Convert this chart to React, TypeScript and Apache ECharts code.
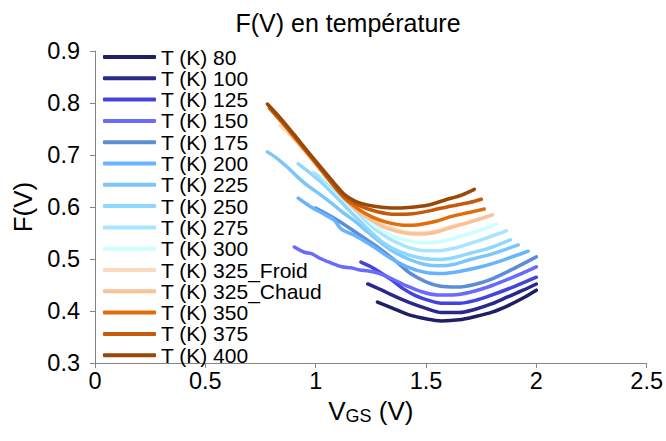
import React, { useEffect, useRef } from "react";
import * as echarts from "echarts";

const TITLE = "F(V) en température";
const X_TICKS = [0, 0.5, 1, 1.5, 2, 2.5];
const Y_TICKS = [0.3, 0.4, 0.5, 0.6, 0.7, 0.8, 0.9];

const NAMES = [
  "T (K) 80", "T (K) 100", "T (K) 125", "T (K) 150", "T (K) 175",
  "T (K) 200", "T (K) 225", "T (K) 250", "T (K) 275", "T (K) 300",
  "T (K) 325_Froid", "T (K) 325_Chaud", "T (K) 350", "T (K) 375", "T (K) 400",
];

const COLORS = [
  "#1f1f66", "#29298c", "#4444dd", "#6a6aff", "#5a8fd5",
  "#66b3ff", "#7cc6fa", "#8ed8ff", "#a8e4ff", "#ccffff",
  "#fdd9bd", "#fbc296", "#e36c0a", "#c55a0c", "#984807",
];

const T80 = [[1.28, 0.417], [1.345, 0.406], [1.42, 0.393], [1.5, 0.385], [1.57, 0.381], [1.65, 0.383], [1.72, 0.389], [1.8, 0.398], [1.87, 0.41], [1.94, 0.425], [2.0, 0.44]];
const T100 = [[1.236, 0.452], [1.3, 0.44], [1.35, 0.43], [1.42, 0.417], [1.5, 0.405], [1.57, 0.397], [1.65, 0.397], [1.72, 0.403], [1.8, 0.414], [1.87, 0.427], [1.94, 0.44], [2.0, 0.452]];
const T125 = [[1.205, 0.494], [1.25, 0.485], [1.3, 0.472], [1.35, 0.458], [1.4, 0.442], [1.45, 0.43], [1.5, 0.422], [1.57, 0.415], [1.65, 0.415], [1.72, 0.42], [1.8, 0.431], [1.9, 0.447], [2.0, 0.465]];
const T150 = [[0.903, 0.523], [0.948, 0.513], [0.984, 0.51], [1.016, 0.502], [1.061, 0.494], [1.12, 0.485], [1.16, 0.483], [1.2, 0.479], [1.24, 0.477], [1.29, 0.472], [1.345, 0.462], [1.42, 0.447], [1.48, 0.437], [1.55, 0.431], [1.62, 0.431], [1.7, 0.436], [1.8, 0.449], [1.9, 0.466], [2.0, 0.485]];
const T175 = [[1.0, 0.598], [1.09, 0.577], [1.18, 0.552], [1.27, 0.526], [1.36, 0.497], [1.43, 0.472], [1.5, 0.456], [1.56, 0.448], [1.64, 0.446], [1.72, 0.451], [1.8, 0.462], [1.9, 0.482], [2.0, 0.504]];
const T200 = [[0.921, 0.617], [0.979, 0.6], [1.03, 0.588], [1.083, 0.575], [1.115, 0.558], [1.173, 0.546], [1.25, 0.527], [1.331, 0.504], [1.42, 0.484], [1.5, 0.474], [1.57, 0.472], [1.65, 0.476], [1.75, 0.485], [1.85, 0.498], [1.963, 0.515]];
const T225 = [[0.781, 0.706], [0.82, 0.695], [0.871, 0.677], [0.92, 0.657], [0.961, 0.642], [1.024, 0.623], [1.07, 0.608], [1.128, 0.588], [1.18, 0.572], [1.241, 0.55], [1.3, 0.53], [1.354, 0.514], [1.42, 0.5], [1.49, 0.49], [1.56, 0.487], [1.63, 0.49], [1.7, 0.499], [1.8, 0.51], [1.918, 0.527]];
const T250 = [[0.921, 0.683], [0.97, 0.667], [1.024, 0.648], [1.07, 0.629], [1.115, 0.61], [1.16, 0.59], [1.205, 0.571], [1.25, 0.552], [1.295, 0.535], [1.35, 0.52], [1.42, 0.508], [1.49, 0.501], [1.56, 0.499], [1.63, 0.503], [1.7, 0.511], [1.8, 0.523], [1.882, 0.537]];
const T275 = [[0.99, 0.666], [1.03, 0.655], [1.07, 0.64], [1.106, 0.625], [1.15, 0.606], [1.196, 0.587], [1.24, 0.568], [1.286, 0.552], [1.33, 0.54], [1.376, 0.53], [1.43, 0.521], [1.5, 0.516], [1.56, 0.516], [1.63, 0.521], [1.7, 0.53], [1.78, 0.541], [1.864, 0.554]];
const T300 = [[1.029, 0.66], [1.07, 0.645], [1.128, 0.622], [1.17, 0.604], [1.218, 0.584], [1.26, 0.567], [1.309, 0.553], [1.376, 0.54], [1.44, 0.533], [1.5, 0.531], [1.56, 0.533], [1.63, 0.54], [1.7, 0.549], [1.76, 0.557], [1.819, 0.567]];
const T325F = [[0.839, 0.756], [0.871, 0.745], [0.93, 0.717], [1.0, 0.682], [1.06, 0.652], [1.12, 0.623], [1.18, 0.599], [1.241, 0.58], [1.3, 0.566], [1.36, 0.557], [1.42, 0.551], [1.48, 0.55], [1.55, 0.554], [1.616, 0.562], [1.7, 0.572], [1.78, 0.582]];
const T325C = [[0.88, 0.742], [0.95, 0.711], [1.024, 0.671], [1.08, 0.643], [1.128, 0.618], [1.18, 0.596], [1.241, 0.578], [1.3, 0.563], [1.36, 0.554], [1.42, 0.549], [1.48, 0.548], [1.55, 0.552], [1.616, 0.561], [1.7, 0.571], [1.801, 0.585]];
const T350 = [[0.79, 0.79], [0.903, 0.735], [1.024, 0.672], [1.128, 0.618], [1.2, 0.594], [1.26, 0.58], [1.32, 0.571], [1.4, 0.565], [1.467, 0.566], [1.55, 0.573], [1.616, 0.582], [1.7, 0.59], [1.764, 0.596]];
const T375 = [[0.79, 0.793], [0.903, 0.736], [1.024, 0.673], [1.128, 0.62], [1.2, 0.602], [1.28, 0.591], [1.36, 0.586], [1.44, 0.587], [1.52, 0.593], [1.616, 0.602], [1.7, 0.609], [1.751, 0.615]];
const T400 = [[0.781, 0.798], [0.84, 0.771], [0.903, 0.739], [0.96, 0.709], [1.024, 0.676], [1.08, 0.648], [1.128, 0.625], [1.18, 0.611], [1.232, 0.604], [1.29, 0.6], [1.354, 0.598], [1.42, 0.599], [1.512, 0.604], [1.59, 0.614], [1.661, 0.623], [1.719, 0.634]];

const DATA = [T80, T100, T125, T150, T175, T200, T225, T250, T275, T300, T325F, T325C, T350, T375, T400];

const FONT = "Liberation Sans";

export default function App() {
  const ref = useRef<HTMLDivElement>(null);
  useEffect(() => {
    if (!ref.current) return;
    const chart = echarts.init(ref.current, null, { renderer: "svg" });
    chart.setOption({
      animation: false,
      backgroundColor: "#ffffff",
      textStyle: { fontFamily: FONT },
      title: {
        text: TITLE,
        left: 343,
        top: 5,
        textAlign: "center",
        textStyle: { fontSize: 25, fontWeight: "normal", color: "#000", fontFamily: FONT },
      },
      legend: {
        orient: "vertical",
        left: 98,
        top: 41.5,
        icon: "roundRect",
        itemWidth: 53,
        itemHeight: 4,
        itemGap: 0.3,
        data: NAMES,
        textStyle: { fontSize: 21, color: "#000", fontFamily: FONT },
      },
      grid: { left: 95, right: 17, top: 51, bottom: 78, containLabel: false },
      xAxis: {
        type: "value",
        min: X_TICKS[0],
        max: X_TICKS[X_TICKS.length - 1],
        interval: 0.5,
        name: "{v|V}{s|GS}{v| (V)}",
        nameLocation: "middle",
        nameGap: 33,
        nameTextStyle: {
          color: "#000",
          rich: {
            v: { fontSize: 26, color: "#000", fontFamily: FONT },
            s: { fontSize: 18, color: "#000", fontFamily: FONT, padding: [10, 0, 0, 0] },
          },
        },
        axisLine: { show: true, lineStyle: { color: "#868686", width: 1 } },
        axisTick: { show: true, length: 5, lineStyle: { color: "#868686" } },
        axisLabel: { fontSize: 23.5, color: "#000", margin: 6, fontFamily: FONT },
        splitLine: { show: false },
      },
      yAxis: {
        type: "value",
        min: Y_TICKS[0],
        max: Y_TICKS[Y_TICKS.length - 1],
        interval: 0.1,
        name: "F(V)",
        nameLocation: "middle",
        nameGap: 55,
        nameTextStyle: { fontSize: 26, color: "#000", fontFamily: FONT },
        axisLine: { show: true, lineStyle: { color: "#868686", width: 1 } },
        axisTick: { show: true, length: 5, lineStyle: { color: "#868686" } },
        axisLabel: {
          fontSize: 23.5,
          color: "#000",
          margin: 15,
          fontFamily: FONT,
          formatter: (v: number) => v.toFixed(1),
        },
        splitLine: { show: false },
      },
      series: DATA.map((d, i) => ({
        name: NAMES[i],
        type: "line",
        data: d,
        smooth: 0.3,
        symbol: "none",
        color: COLORS[i],
        lineStyle: { width: 3.5, color: COLORS[i], cap: "round", join: "round" },
      })),
    });
    return () => chart.dispose();
  }, []);
  return (
    <div
      ref={ref}
      style={{ position: "absolute", left: 0, top: 0, width: 666, height: 441 }}
    />
  );
}
